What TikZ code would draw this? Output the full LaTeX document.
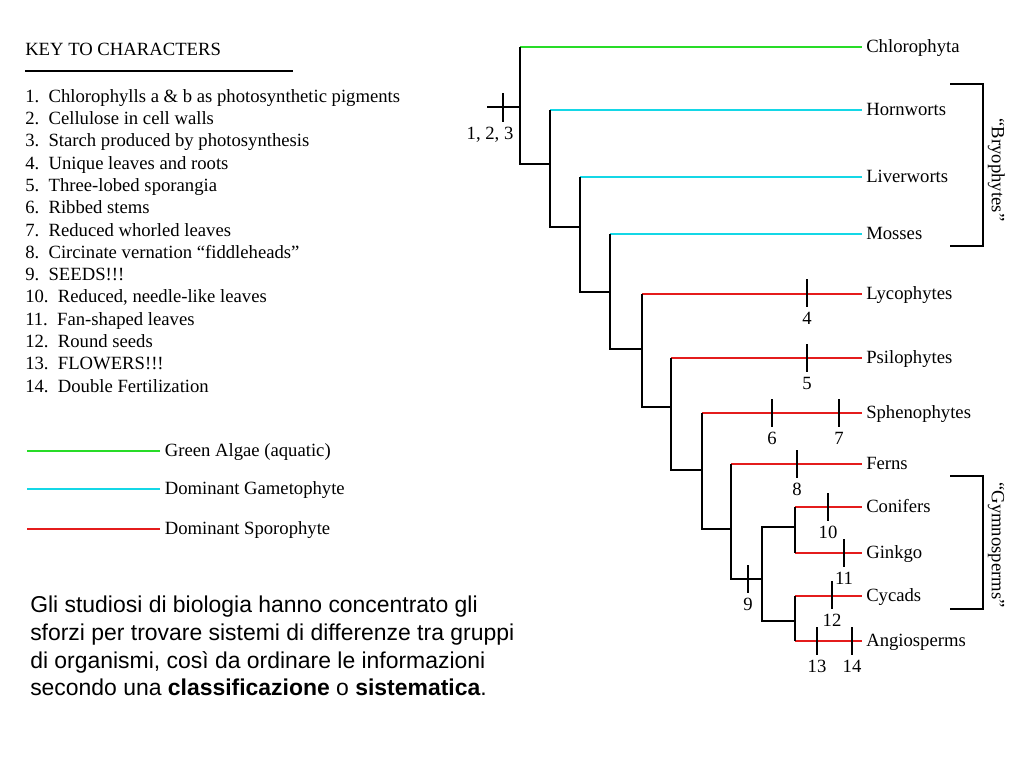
\documentclass[tikz,border=0pt]{standalone}
\usepackage{fontspec}
\setmainfont{Liberation Serif}
\newfontfamily\arialfont{Liberation Sans}
\usetikzlibrary{positioning,calc}

\definecolor{algae}{RGB}{40,220,40}
\definecolor{gameto}{RGB}{20,215,230}
\definecolor{sporo}{RGB}{228,28,28}

\tikzset{
  taxon/.style={anchor=west, inner sep=3pt, text height=2ex, text depth=0.3ex,
    font=\fontsize{14}{16}\selectfont},
  keytext/.style={anchor=west, inner sep=0pt, text=black, text height=2ex, text depth=0.3ex,
    font=\fontsize{14}{16}\selectfont},
  trait/.style={below, inner sep=3.5pt, font=\fontsize{14}{16}\selectfont},
  stem/.style={black, line width=1pt},
  algaeline/.style={algae, line width=1.3pt},
  gametoline/.style={gameto, line width=1.3pt},
  sporoline/.style={sporo, line width=1.3pt}
}

\begin{document}
\begin{tikzpicture}[x=0.75pt, y=-0.75pt]
    \useasboundingbox (0,0) rectangle (1024,768);

    % Key to characters
    \node[keytext] (keyhead) at (25,50) {KEY TO CHARACTERS};
    \draw[line width=1.1pt] (25,71) -- (293,71);
    \foreach \i/\txt in {1/{Chlorophylls a \& b as photosynthetic pigments},
        2/{Cellulose in cell walls}, 3/{Starch produced by photosynthesis},
        4/{Unique leaves and roots}, 5/{Three-lobed sporangia}, 6/{Ribbed stems},
        7/{Reduced whorled leaves}, 8/{Circinate vernation “fiddleheads”},
        9/{SEEDS!!!}, 10/{Reduced, needle-like leaves}, 11/{Fan-shaped leaves},
        12/{Round seeds}, 13/{FLOWERS!!!}, 14/{Double Fertilization}}
        \node[keytext] (key\i) at (25,{97+(\i-1)*22.3}) {\i.\ \ \txt};

    % Legend
    \foreach \y/\c/\t in {451/algae/Green Algae (aquatic), 489/gameto/Dominant Gametophyte,
        529/sporo/Dominant Sporophyte}
        \draw[line width=1.3pt, \c] (27,\y) -- (160,\y) node[keytext, right=3pt] (leg-\c) {\t};

    % Taxa
    \node[taxon] (chl) at (862,47) {Chlorophyta};
    \node[taxon] (horn) at (862,110) {Hornworts};
    \node[taxon] (liver) at (862,177) {Liverworts};
    \node[taxon] (moss) at (862,234) {Mosses};
    \node[taxon] (lyco) at (862,294) {Lycophytes};
    \node[taxon] (psilo) at (862,358) {Psilophytes};
    \node[taxon] (spheno) at (862,413) {Sphenophytes};
    \node[taxon] (fern) at (862,464) {Ferns};
    \node[taxon] (conif) at (862,507) {Conifers};
    \node[taxon] (ginkgo) at (862,553) {Ginkgo};
    \node[taxon] (cycad) at (862,596) {Cycads};
    \node[taxon] (angio) at (862,641) {Angiosperms};

    % Branch points
    \coordinate (base) at (487,107);
    \coordinate (n1) at (520,107);
    \coordinate (n2) at (550,164);
    \coordinate (n3) at (580,227);
    \coordinate (n4) at (610,292);
    \coordinate (n5) at (642,349);
    \coordinate (n6) at (671,407);
    \coordinate (n7) at (702,470);
    \coordinate (n8) at (731,529);
    \coordinate (n9) at (762,579);
    \coordinate (n10) at (795,527);
    \coordinate (n11) at (795,621);

    % Coloured branches
    \draw[algaeline] (chl.west -| n1) -- (chl.west);
    \draw[gametoline] (horn.west -| n2) -- (horn.west);
    \draw[gametoline] (liver.west -| n3) -- (liver.west);
    \draw[gametoline] (moss.west -| n4) -- (moss.west);
    \draw[sporoline] (lyco.west -| n5) -- (lyco.west);
    \draw[sporoline] (psilo.west -| n6) -- (psilo.west);
    \draw[sporoline] (spheno.west -| n7) -- (spheno.west);
    \draw[sporoline] (fern.west -| n8) -- (fern.west);
    \draw[sporoline] (conif.west -| n10) -- (conif.west);
    \draw[sporoline] (ginkgo.west -| n10) -- (ginkgo.west);
    \draw[sporoline] (cycad.west -| n11) -- (cycad.west);
    \draw[sporoline] (angio.west -| n11) -- (angio.west);

    % Black skeleton
    \draw[stem] (base) -- (n1);
    \draw[stem] (chl.west -| n1) -- (n2 -| n1) -- (n2);
    \draw[stem] (horn.west -| n2) -- (n3 -| n2) -- (n3);
    \draw[stem] (liver.west -| n3) -- (n4 -| n3) -- (n4);
    \draw[stem] (moss.west -| n4) -- (n5 -| n4) -- (n5);
    \draw[stem] (lyco.west -| n5) -- (n6 -| n5) -- (n6);
    \draw[stem] (psilo.west -| n6) -- (n7 -| n6) -- (n7);
    \draw[stem] (spheno.west -| n7) -- (n8 -| n7) -- (n8);
    \draw[stem] (fern.west -| n8) -- (n9 -| n8) -- (n9);
    \draw[stem] (n10) -- (n10 -| n9) -- (n11 -| n9) -- (n11);
    \draw[stem] (conif.west -| n10) -- (ginkgo.west -| n10);
    \draw[stem] (cycad.west -| n11) -- (angio.west -| n11);

    % Characters
    \draw[stem] (503,93) -- (503,122);
    \node[trait] (c123) at (490,122) {1, 2, 3};
    \foreach \x/\y/\n in {807/293/4, 807/358/5, 772/413/6, 839/413/7, 797/464/8,
        748/579/9, 828/507/10, 844/553/11, 832/595/12, 817/641/13, 852/641/14}
        \draw[stem] (\x,\y-14) -- (\x,\y+14) node[trait] (c\n) {\n};

    % Groups
    \draw[stem] (950,84) -| (983,246) -- (950,246);
    \node[taxon, anchor=center, rotate=-90] (bryo) at (997,170) {“Bryophytes”};
    \draw[stem] (950,476) -| (983,609) -- (950,609);
    \node[taxon, anchor=center, rotate=-90] (gymno) at (997,545) {“Gymnosperms”};

    % Caption
    \node[anchor=west, align=left, inner sep=0pt, font=\arialfont\fontsize{17.2}{20.8}\selectfont]
        (caption) at (30,646) {Gli studiosi di biologia hanno concentrato gli\\
        sforzi per trovare sistemi di differenze tra gruppi\\
        di organismi, così da ordinare le informazioni\\
        secondo una \textbf{classificazione} o \textbf{sistematica}.};
\end{tikzpicture}
\end{document}
